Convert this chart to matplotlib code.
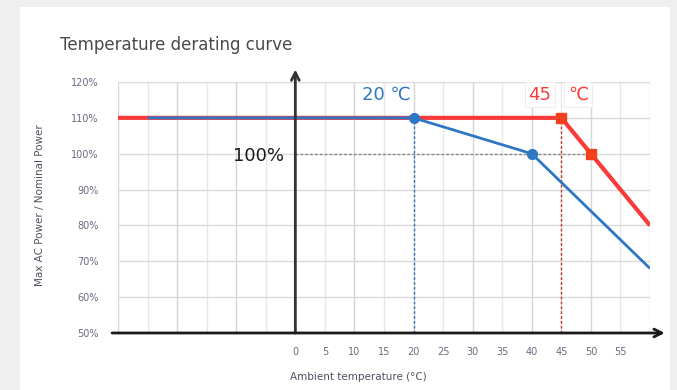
import matplotlib
matplotlib.use("Agg")
import matplotlib.pyplot as plt
from matplotlib.patches import Rectangle
from matplotlib.ticker import MultipleLocator

# Derating curves (ambient temperature in °C, power in % of nominal)
red_temp = [-30, 45, 50, 60]
red_power = [110, 110, 100, 80]
red_marker_temp = [45, 50]
red_marker_power = [110, 100]

blue_temp = [-25, 20, 40, 60]
blue_power = [110, 110, 100, 68]
blue_marker_temp = [20, 40]
blue_marker_power = [110, 100]

x_ticks = [0, 5, 10, 15, 20, 25, 30, 35, 40, 45, 50, 55]
y_ticks = [50, 60, 70, 80, 90, 100, 110, 120]
y_tick_labels = [f"{v}%" for v in y_ticks]

RED = "#fb3a3a"
RED_MK = "#f0401c"
BLUE = "#2f76c4"

W, H = 677, 390
fig = plt.figure(figsize=(W / 100, H / 100), dpi=100)
fig.patch.set_facecolor("#efefef")
fig.add_artist(Rectangle((20 / W, 0), (670 - 20) / W, (H - 7) / H,
                         transform=fig.transFigure, facecolor="white",
                         edgecolor="none", zorder=0))

ax = fig.add_axes([118 / W, 1 - 333 / H, 532 / W, (333 - 82) / H])
ax.set_facecolor("none")
ax.set_xlim(-30, 60)
ax.set_ylim(50, 120)

for s in ax.spines.values():
    s.set_visible(False)

# grid: darker every 10 °C, lighter in between
ax.yaxis.set_major_locator(MultipleLocator(10))
ax.grid(which="major", axis="y", color="#dadada", lw=1.0, zorder=1)
for xv in range(-30, 61, 5):
    shade = "#d6d6d6" if xv % 10 == 0 else "#e8e8e8"
    ax.axvline(xv, color=shade, lw=1.0, zorder=1)
ax.tick_params(which="both", length=0)

ax.set_xticks(x_ticks)
ax.set_xticklabels([str(v) for v in x_ticks], fontsize=7, color="#6a6a80")
ax.tick_params(axis="x", pad=10)
ax.set_yticks(y_ticks)
ax.set_yticklabels(y_tick_labels, fontsize=7, color="#6a6a80")
ax.tick_params(axis="y", pad=14)

# reference lines
ax.plot([0, 50], [100, 100], ls=(0, (2, 1.5)), color="#8a8a8a", lw=1.0, zorder=2)
ax.plot([20, 20], [50, 110], ls=(0, (2, 1.5)), color=BLUE, lw=1.0, zorder=2)
ax.plot([45, 45], [50, 110], ls=(0, (2, 1.5)), color="#c0392b", lw=1.0, zorder=2)

# curves
ax.plot(red_temp, red_power, color=RED, lw=3.0, zorder=3, solid_capstyle="butt")
ax.plot(red_marker_temp, red_marker_power, ls="none", marker="s", ms=6.5,
        color=RED_MK, zorder=5)
ax.plot(blue_temp, blue_power, color=BLUE, lw=2.0, zorder=4, solid_capstyle="butt")
ax.plot(blue_marker_temp, blue_marker_power, ls="none", marker="o", ms=7,
        color=BLUE, zorder=5)

# axis arrows
ax.annotate("", xy=(0, 123.5), xytext=(0, 50), xycoords="data",
            arrowprops=dict(arrowstyle="->", color="#333333", lw=2,
                            mutation_scale=14, shrinkA=0, shrinkB=0),
            annotation_clip=False, zorder=6)
ax.annotate("", xy=(62.5, 50), xytext=(-31, 50), xycoords="data",
            arrowprops=dict(arrowstyle="->", color="#1a1a1a", lw=2,
                            mutation_scale=14, shrinkA=0, shrinkB=0),
            annotation_clip=False, zorder=6)

# annotations
ax.text(-2, 99.5, "100%", fontsize=13, color="#1a1a1a", ha="right", va="center",
        zorder=6)
ax.text(19.5, 114, "20 \u2103", fontsize=13, color=BLUE, ha="right", va="bottom",
        zorder=6)
ax.text(43.3, 114, "45", fontsize=13, color=RED, ha="right", va="bottom", zorder=6,
        bbox=dict(boxstyle="square,pad=0.2", fc="white", ec="#ececec", lw=0.7))
ax.text(47.8, 114, "\u2103", fontsize=13, color=RED, ha="center", va="bottom",
        zorder=6,
        bbox=dict(boxstyle="square,pad=0.2", fc="white", ec="#ececec", lw=0.7))

fig.text(60 / W, 1 - 45 / H, "Temperature derating curve", fontsize=12,
         color="#4a4a4a", ha="left", va="center")
fig.text(40 / W, 1 - 205 / H, "Max AC Power / Nominal Power", fontsize=7.5,
         color="#505060", rotation=90, ha="center", va="center")
fig.text(290 / W, 1 - 377 / H, "Ambient temperature (°C)", fontsize=7.5,
         color="#505060", ha="left", va="center")

fig.savefig("out.png", dpi=100)
